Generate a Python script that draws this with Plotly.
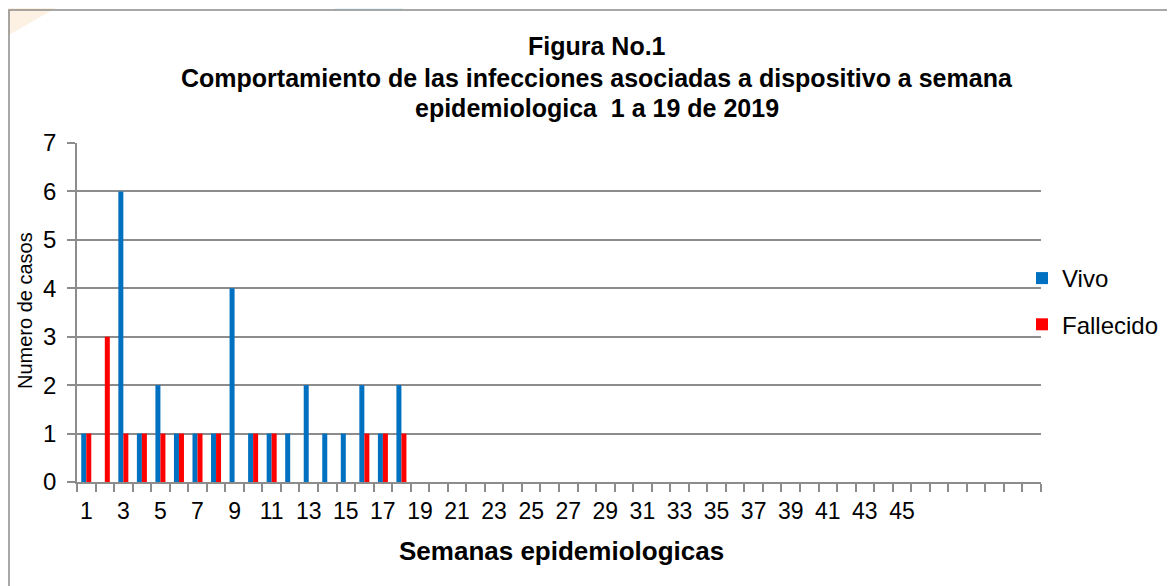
import plotly.graph_objects as go

weeks = [1, 2, 3, 4, 5, 6, 7, 8, 9, 10, 11, 12, 13, 14, 15, 16, 17, 18]
vivo = [1, 0, 6, 1, 2, 1, 1, 1, 4, 1, 1, 1, 2, 1, 1, 2, 1, 2]
fallecido = [1, 3, 1, 1, 1, 1, 1, 1, 0, 1, 1, 0, 0, 0, 0, 1, 1, 1]
label_weeks = list(range(1, 46, 2))
tick_labels = [str(w) for w in label_weeks]
n_weeks = 52

title_lines = [
    "Figura No.1",
    "Comportamiento de las infecciones asociadas a dispositivo a semana",
    "epidemiologica  1 a 19 de 2019",
]
x_title = "Semanas epidemiologicas"
y_title = "Numero de casos"

FONT = "Liberation Sans, Arial, sans-serif"
GRID = "#8c8c8c"

# page geometry (browser body has an 8px margin)
OFF = 8
W, H = 1175 - OFF, 586 - OFF
PL, PR, PT, PB = 77, 1041, 143, 482   # plot area in page pixels
PW, PH = PR - PL, PB - PT


def px(x):
    return (x - PL) / PW


def py(y):
    return (PB - y) / PH


fig = go.Figure()
fig.add_trace(go.Bar(x=weeks, y=vivo, name="Vivo",
                     marker=dict(color="#0070C0", line=dict(width=0)), legendgroup="a"))
fig.add_trace(go.Bar(x=weeks, y=fallecido, name="Fallecido",
                     marker=dict(color="#FF0000", line=dict(width=0)), legendgroup="b"))

fig.update_layout(
    width=W, height=H,
    margin=dict(l=PL - OFF, r=W - (PR - OFF), t=PT - OFF, b=H - (PB - OFF), autoexpand=False),
    paper_bgcolor="white", plot_bgcolor="white",
    barmode="group", bargap=0.46, bargroupgap=0,
    font=dict(family=FONT, color="black", size=24),
    legend=dict(x=px(1022), xanchor="left", y=py(256), yanchor="top",
                font=dict(family=FONT, size=24, color="black"),
                tracegroupgap=12, traceorder="grouped",
                bgcolor="rgba(0,0,0,0)", itemwidth=30),
    showlegend=True,
    xaxis=dict(
        range=[0.5, n_weeks + 0.5],
        tickmode="array", tickvals=label_weeks, ticktext=tick_labels,
        ticks="outside", ticklen=8, tickcolor="rgba(0,0,0,0)",
        showgrid=False, zeroline=False,
        showline=True, linecolor=GRID, linewidth=1.5,
        tickfont=dict(family=FONT, size=23, color="black"),
        minor=dict(tick0=0.5, dtick=1, ticks="outside", ticklen=8, tickcolor=GRID,
                   tickwidth=1.5, showgrid=False),
        fixedrange=True,
    ),
    yaxis=dict(
        range=[0, 7], dtick=1, tick0=0,
        showgrid=True, gridcolor=GRID, gridwidth=1.5,
        zeroline=False,
        showline=True, linecolor=GRID, linewidth=1.5,
        ticks="outside", ticklen=8, tickcolor=GRID, tickwidth=1.5,
        ticklabelstandoff=6,
        tickfont=dict(family=FONT, size=24, color="black"),
        fixedrange=True,
    ),
)

# title lines
for text, yc in zip(title_lines, [46, 78, 108]):
    fig.add_annotation(text="<b>%s</b>" % text, xref="paper", yref="paper",
                       x=px(597), y=py(yc), xanchor="center", yanchor="middle",
                       showarrow=False, font=dict(family=FONT, size=25, color="black"))

# axis titles
fig.add_annotation(text="<b>%s</b>" % x_title, xref="paper", yref="paper",
                   x=px(561), y=py(551), xanchor="center", yanchor="middle",
                   showarrow=False, font=dict(family=FONT, size=26, color="black"))
fig.add_annotation(text=y_title, xref="paper", yref="paper", textangle=-90,
                   x=px(25), y=py(311), xanchor="center", yanchor="middle",
                   showarrow=False, font=dict(family=FONT, size=20, color="black"))

# faint background decoration
fig.add_shape(type="path", xref="paper", yref="paper",
              path="M %f %f L %f %f L %f %f Z" % (px(0), py(0), px(70), py(0), px(0), py(40)),
              line=dict(width=0), fillcolor="#fdf1e3", layer="below")
fig.add_shape(type="rect", xref="paper", yref="paper",
              x0=px(335), x1=px(403), y0=py(10), y1=py(0),
              line=dict(width=0), fillcolor="#e9f6fb", layer="below")
fig.add_shape(type="rect", xref="paper", yref="paper",
              x0=px(0), x1=px(8), y0=py(586), y1=py(10),
              line=dict(width=0), fillcolor="#fef6ee", layer="below")

# chart border
fig.add_shape(type="rect", xref="paper", yref="paper",
              x0=px(9), x1=px(1190), y0=py(600), y1=py(10),
              line=dict(color="#8c8c8c", width=1.5), fillcolor="rgba(0,0,0,0)", layer="below")

fig.write_html("out.html")
